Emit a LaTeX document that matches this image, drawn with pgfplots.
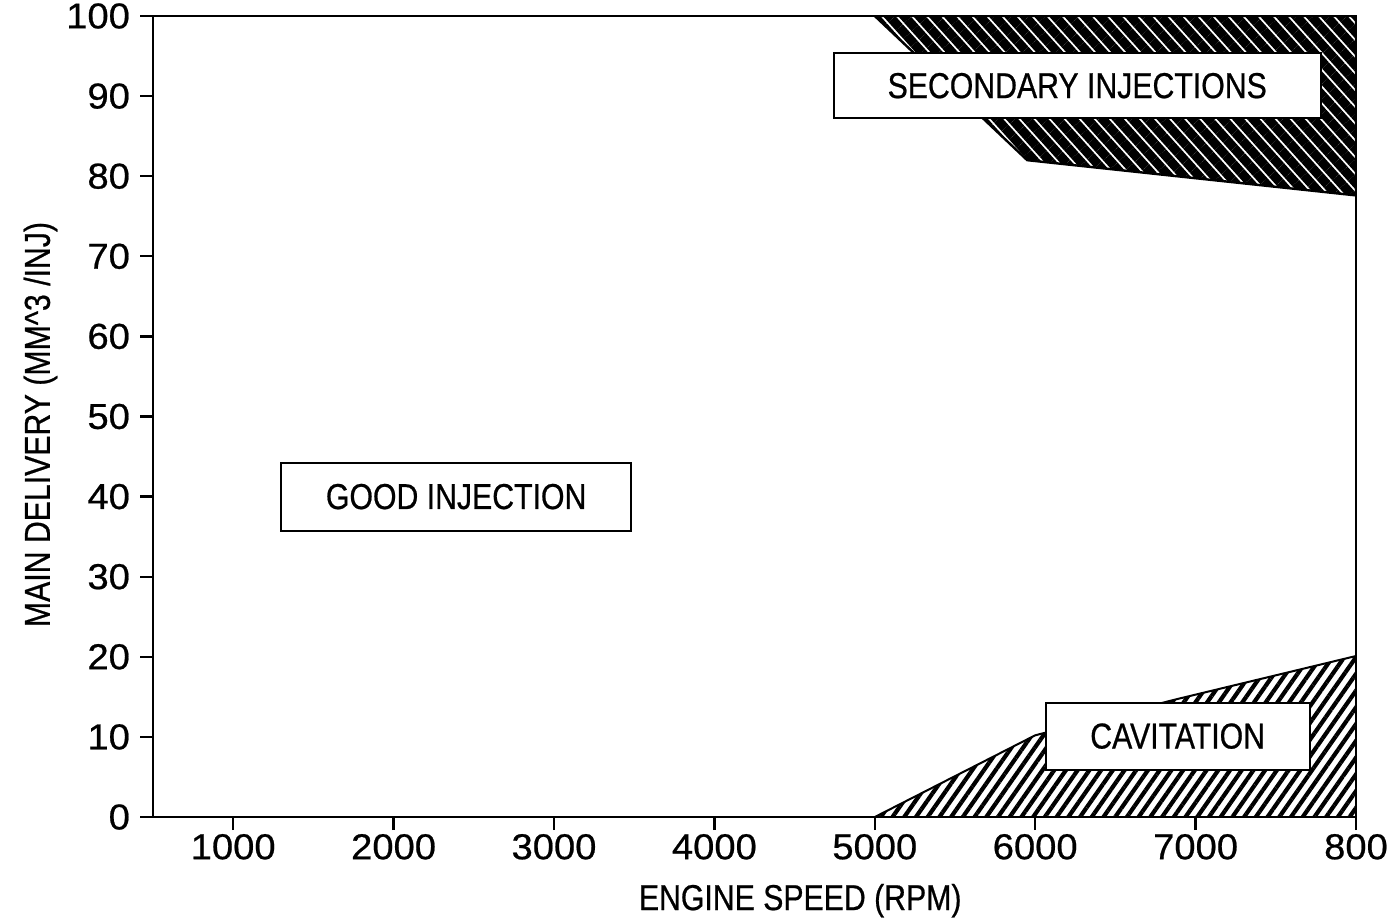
\documentclass[border=0pt]{standalone}
\usepackage{fontspec}
\setmainfont{Liberation Sans}
\newfontfamily\narrowfont{Liberation Sans}[FakeStretch=0.84, FakeBold=0.6]
\newfontfamily\tickfont{Liberation Sans}[FakeStretch=1.06, FakeBold=0.6]
\usepackage{pgfplots}
\pgfplotsset{compat=1.18}
\usetikzlibrary{patterns.meta}

\begin{document}
\begin{tikzpicture}
\begin{axis}[
  name=ax,
  scale only axis, width=601.5pt, height=400.5pt,
  xmin=500, xmax=8000, ymin=0, ymax=100,
  xtick={1000,2000,3000,4000,5000,6000,7000,8000},
  xticklabels={1000,2000,3000,4000,5000,6000,7000,800},
  ytick={0,10,20,30,40,50,60,70,80,90,100},
  tick pos=left, tick align=outside,
  major tick length=6.5pt,
  axis on top,
  axis line style={line width=1.3pt},
  every tick/.style={line width=1.2pt, black},
  /pgf/number format/assume math mode=true,
  ticklabel style={font=\tickfont\fontsize{18}{20}\selectfont},
  xticklabel style={yshift=1.5pt},
  yticklabel style={xshift=-1.5pt},
  xlabel={ENGINE SPEED (RPM)},
  ylabel={MAIN DELIVERY (MM\textasciicircum 3 /INJ)},
  label style={font=\narrowfont\fontsize{18}{20}\selectfont},
  xlabel style={at={(axis description cs:0.538,-0.1045)}, anchor=center},
  ylabel style={at={(axis description cs:-0.0935,0.49)}, anchor=center},
]
% Secondary injections region
\addplot[draw=black, line width=1.2pt,
  pattern={Lines[angle=-48, distance=5.6pt, line width=4.6pt]}, pattern color=black]
  coordinates {(5000,100) (5950,82) (8000,77.6) (8000,100)} -- cycle;
% Cavitation region
\addplot[draw=black, line width=1pt,
  pattern={Lines[angle=55, distance=4.8pt, line width=2.1pt]}, pattern color=black]
  coordinates {(5000,0) (6000,10.2) (6880,14.7) (8000,20.1) (8000,0)} -- cycle;

\node[draw, line width=1pt, fill=white, minimum width=175pt, minimum height=34pt,
  inner sep=0pt, font=\narrowfont\fontsize{18}{20}\selectfont]
  at (axis cs:2390,40) {GOOD INJECTION};
\node[draw, line width=1pt, fill=white, minimum width=243.5pt, minimum height=32.5pt,
  inner sep=0pt, font=\narrowfont\fontsize{18}{20}\selectfont]
  at (axis cs:6262,91.3) {SECONDARY INJECTIONS};
\node[draw, line width=1pt, fill=white, minimum width=132pt, minimum height=33.5pt,
  inner sep=0pt, font=\narrowfont\fontsize{18}{20}\selectfont]
  at (axis cs:6888,10.1) {CAVITATION};
\end{axis}
\pgfresetboundingbox
\path ([shift={(-76.5pt,-51.5pt)}]ax.south west) rectangle ([shift={(17.5pt,8pt)}]ax.north east);
\end{tikzpicture}
\end{document}
